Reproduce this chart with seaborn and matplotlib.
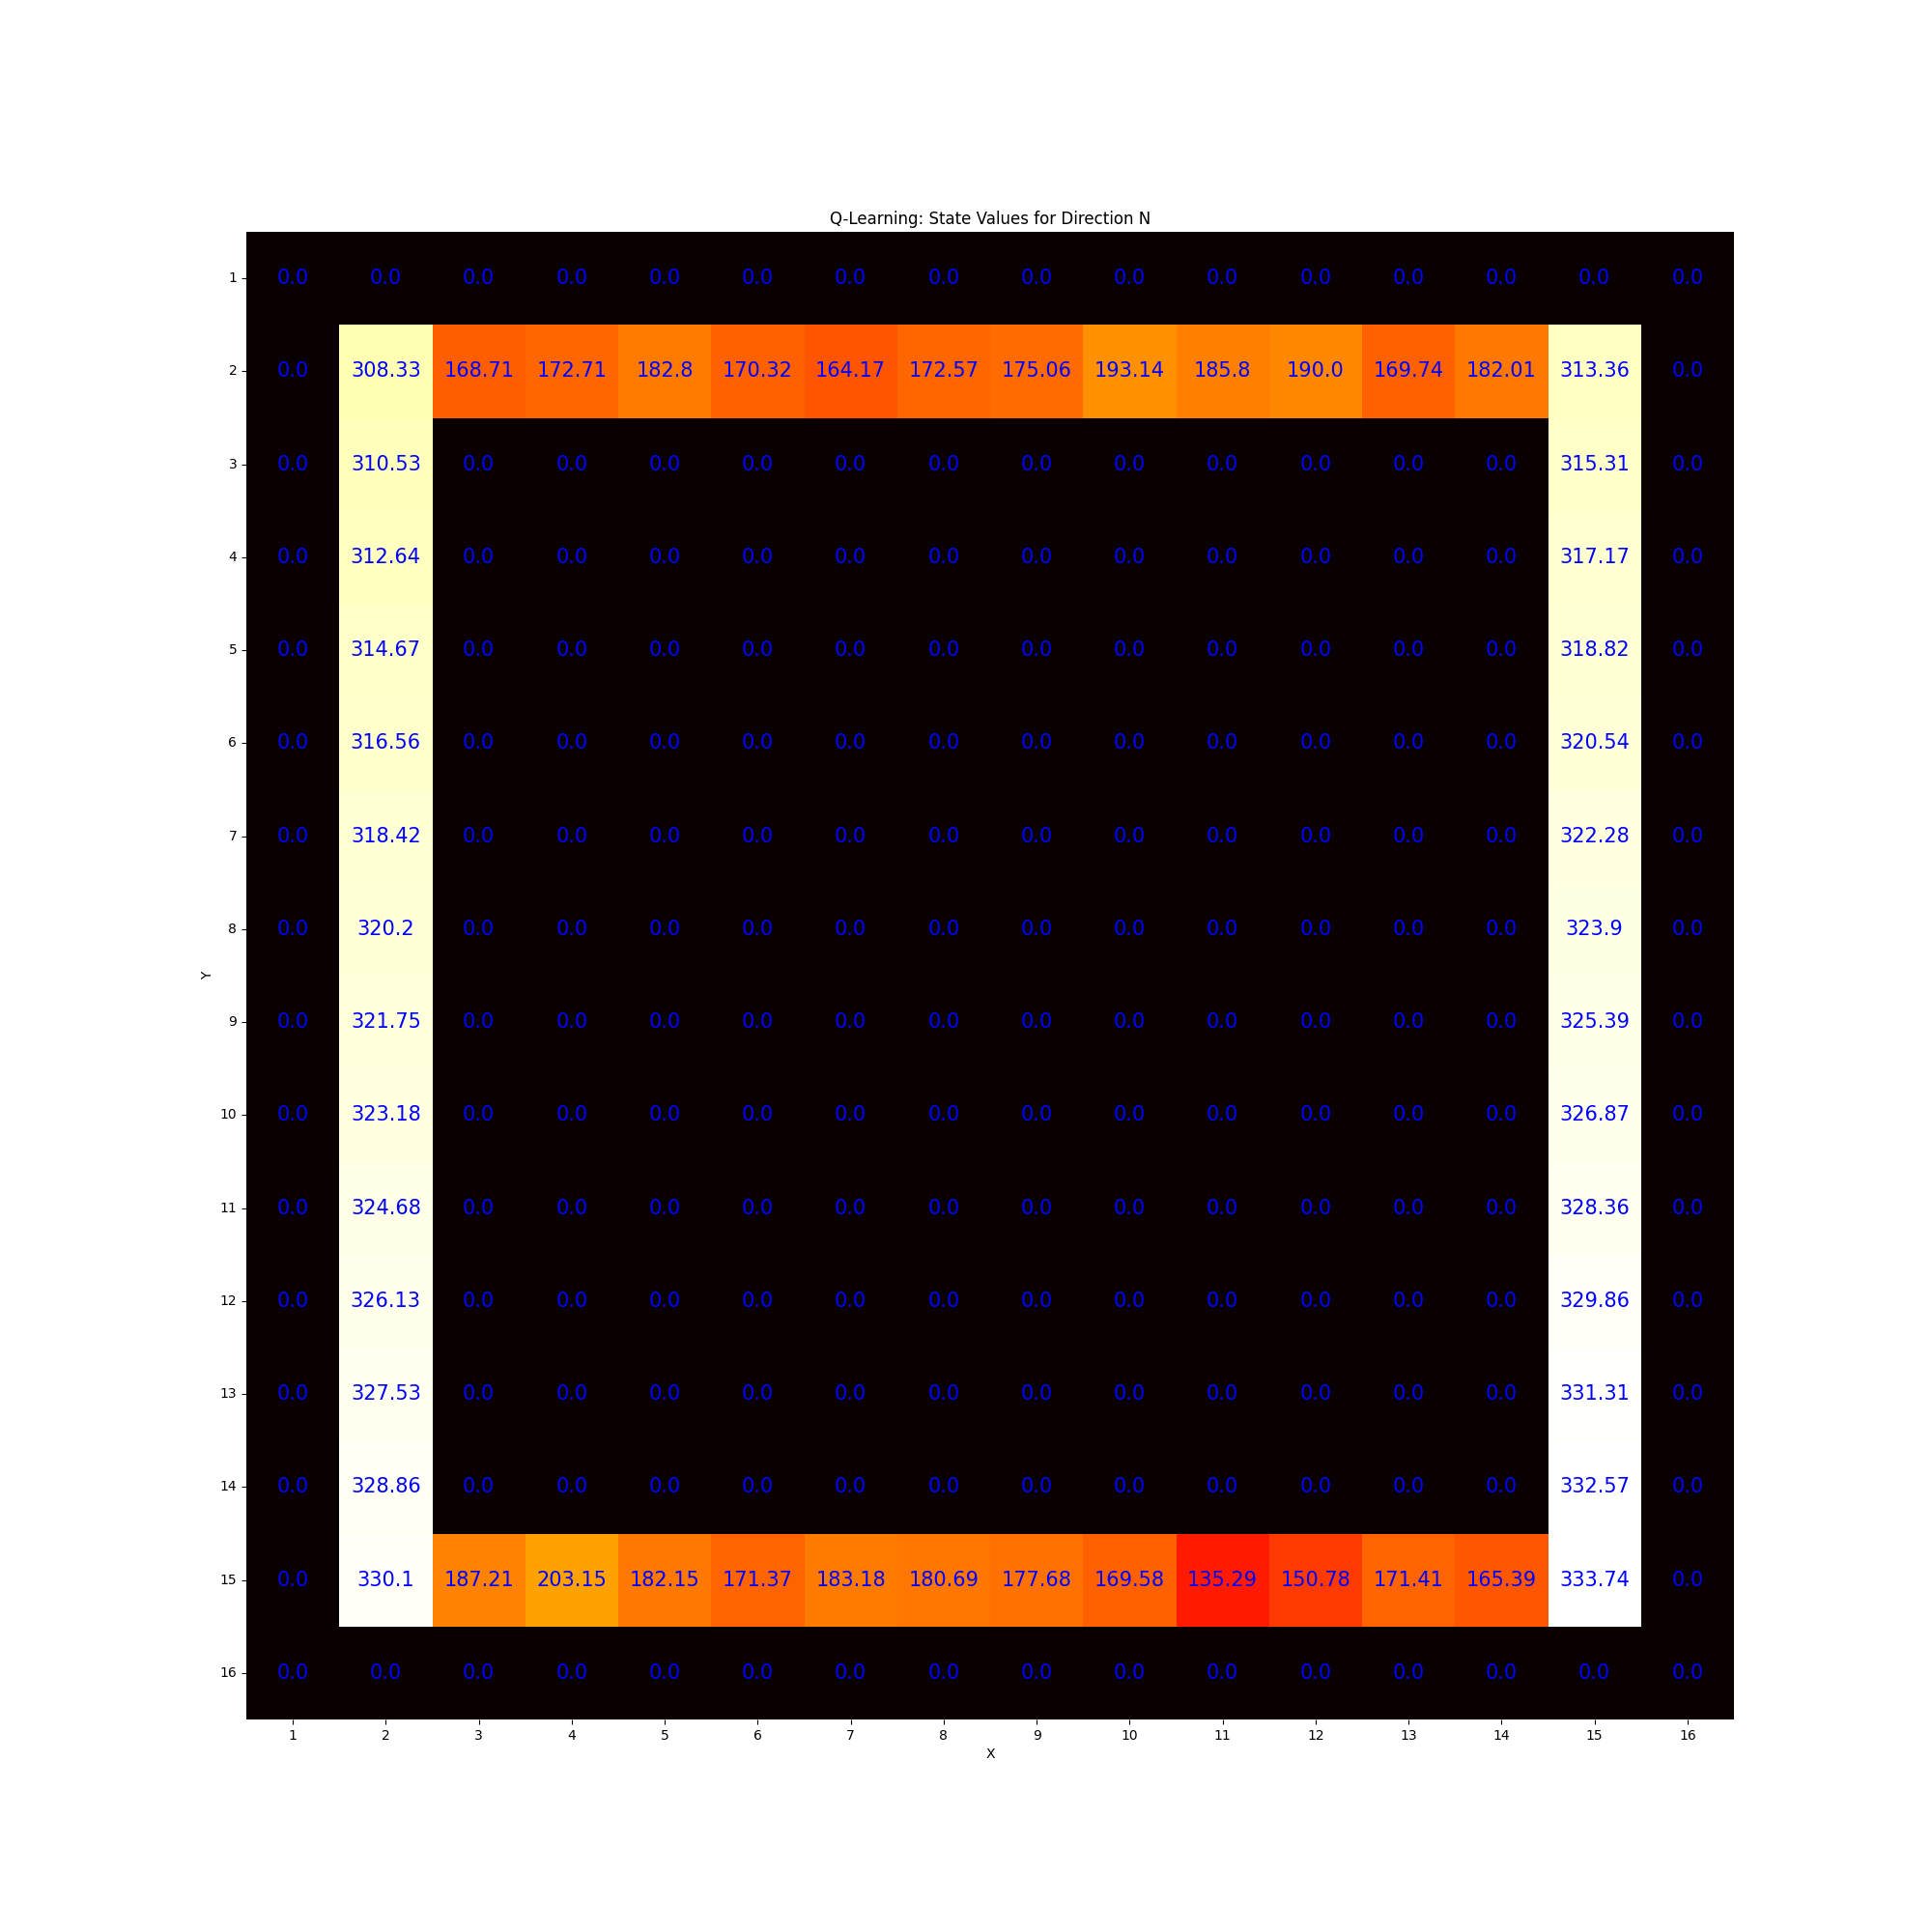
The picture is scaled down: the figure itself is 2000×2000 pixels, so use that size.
import numpy as np
import matplotlib
matplotlib.use("Agg")
import matplotlib.pyplot as plt
import seaborn as sns

# Grid size and axis labels
n = 16
x_labels = list(range(1, n + 1))
y_labels = list(range(1, n + 1))

# Top corridor (row 2) and bottom corridor (row 15), columns 1..16
row_2 = [0.0, 308.33, 168.71, 172.71, 182.8, 170.32, 164.17, 172.57,
         175.06, 193.14, 185.8, 190.0, 169.74, 182.01, 313.36, 0.0]
row_15 = [0.0, 330.1, 187.21, 203.15, 182.15, 171.37, 183.18, 180.69,
          177.68, 169.58, 135.29, 150.78, 171.41, 165.39, 333.74, 0.0]

# Left (column 2) and right (column 15) corridors, rows 3..14
col_2 = [310.53, 312.64, 314.67, 316.56, 318.42, 320.2,
         321.75, 323.18, 324.68, 326.13, 327.53, 328.86]
col_15 = [315.31, 317.17, 318.82, 320.54, 322.28, 323.9,
          325.39, 326.87, 328.36, 329.86, 331.31, 332.57]

# Build the value grid
values = np.zeros((n, n))
values[1, :] = row_2
values[14, :] = row_15
values[2:14, 1] = col_2
values[2:14, 14] = col_15

annot = np.vectorize(lambda v: str(round(float(v), 2)))(values)

fig, ax = plt.subplots(figsize=(20, 20), dpi=100)
sns.heatmap(
    values,
    cmap="hot",
    annot=annot,
    fmt="",
    annot_kws={"color": "blue", "fontsize": 15},
    cbar=False,
    square=True,
    xticklabels=x_labels,
    yticklabels=y_labels,
    ax=ax,
)
ax.set_title("Q-Learning: State Values for Direction N")
ax.set_xlabel("X")
ax.set_ylabel("Y")
plt.setp(ax.get_yticklabels(), rotation=0)
plt.setp(ax.get_xticklabels(), rotation=0)

plt.savefig("out.png", dpi=100)
